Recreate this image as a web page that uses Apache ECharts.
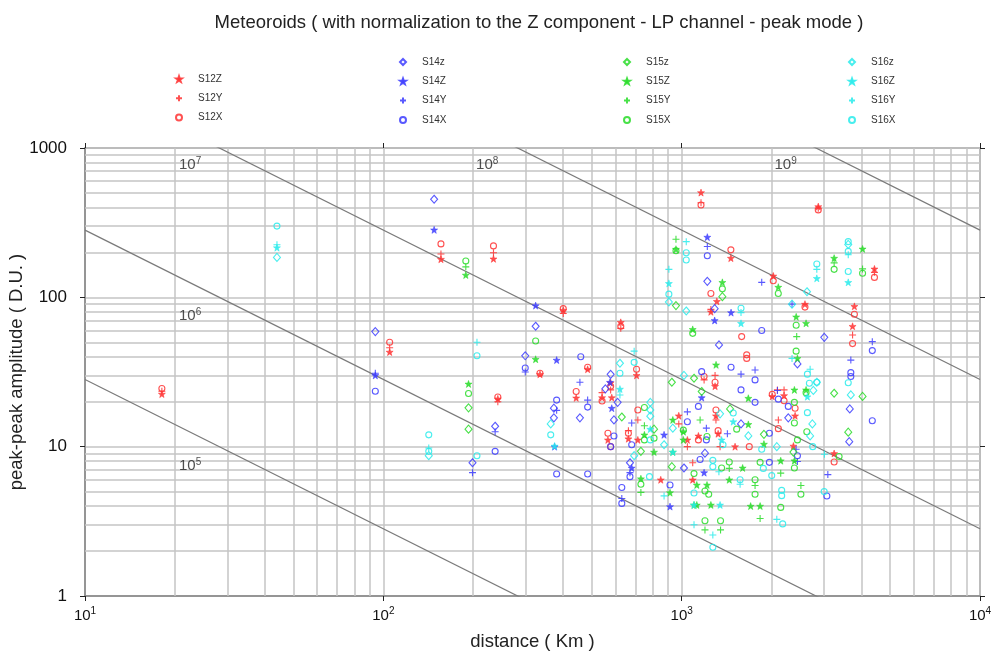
<!DOCTYPE html>
<html>
<head>
<meta charset="utf-8">
<title>Meteoroids</title>
<script src="https://cdn.jsdelivr.net/npm/echarts@6/dist/echarts.min.js"></script>
<style>
  html, body { margin: 0; padding: 0; background: #fff; }
  #chart { width: 996px; height: 655px; }
</style>
</head>
<body>
<div id="chart"></div>
<script>
// Peak-peak amplitude (D.U.) versus distance (km), one series per station and component.
// Each point is [distance, amplitude].
const s12Z = [[18.1,22.5],[105,43],[156,180],[234,181],[401,82],[625,68],[1161,503],[2870,405],[1462,183],[1312,94],[1253,80],[2028,139],[2590,90],[4428,155],[3793,87],[3740,64],[3244,9.0],[484,33],[335,30.5],[443,21.2],[541,21.3],[583,21.3],[578,26.8],[566,11.1],[663,11.3],[713,11.1],[706,30],[242,20.9],[851,6.0],[978,16.1],[1294,25.4],[1303,16.1],[1325,12.2],[1045,11.1],[1138,11.8],[1510,10],[2012,21.7],[2204,22],[2400,16.1],[2369,10.1],[1089,6.0]];
const s12Y = [[18.1,23.5],[105,46],[156,195],[234,199],[401,78],[1161,430],[2870,395],[541,23],[242,20],[663,12.8],[713,15.1],[1303,15.1],[1189,28],[1294,30],[2094,24],[2204,24],[1045,10],[1089,7.8],[2109,15.1],[3740,56],[1345,10],[625,62],[1253,83],[4428,147],[978,14.2],[578,24]];
const s12X = [[18.1,24.5],[105,50],[156,228],[234,221],[401,84],[625,64],[1161,415],[2870,385],[1462,208],[1253,106],[2028,129],[2590,86],[4428,136],[3793,77],[3740,49],[3244,7.9],[484,34],[443,23.4],[541,20.2],[578,25.4],[566,12.3],[578,10],[663,12.3],[713,17.6],[706,33],[242,21.5],[1589,54.6],[1652,41.2],[1652,39],[1189,29.5],[1294,27],[1303,17.6],[1325,12.8],[1138,11.1],[1685,10],[2012,22.4],[2204,20.3],[2400,18.1],[2109,13.2],[335,31]];

const s14z = [[94,59],[148,454],[324,64],[299,40.6],[1219,128],[1290,84],[3006,54],[3660,17.9],[3645,10.8],[237,13.7],[199,7.8],[373,15.6],[456,15.6],[578,30.5],[555,24.4],[610,19.8],[593,15.1],[671,7.8],[1018,7.2],[1334,48],[2444,35.8],[2277,15.6],[1581,14.2],[1197,9.05],[373,18.1]];
const s14Z = [[148,283],[324,88],[381,38],[375,10],[583,18.1],[575,27],[680,7.2],[914,3.97],[1219,253],[1290,70],[1464,79],[1189,6.7],[1167,21.3],[873,12],[94,30]];
const s14Y = [[94,31],[237,12.6],[199,6.7],[299,31.6],[456,27],[484,20.5],[381,17.5],[680,14.4],[671,6.7],[630,4.5],[1219,219],[1855,126],[2344,90],[1581,30.6],[1762,32.6],[2094,23.8],[1045,17.1],[1210,13.3],[1423,12.2],[2419,9.6],[2444,7.95],[4355,50.5],[3690,38],[3090,6.5]];
const s14X = [[94,23.5],[237,9.3],[299,33.6],[459,40],[381,20.5],[484,18.4],[381,6.56],[484,6.56],[593,11.8],[578,10],[680,10.3],[671,6.3],[630,5.33],[630,4.17],[914,5.54],[1219,190],[1167,31.8],[1464,34],[1762,28],[1581,24],[1138,18.6],[1762,19.8],[2109,20.8],[2277,18.6],[1968,12.3],[1045,14.7],[1210,11.1],[1153,8.2],[1968,7.85],[2444,8.7],[1855,60],[4355,44],[3690,31.3],[3690,29.5],[4355,14.9],[3067,4.67]];

const s15z = [[193,18.2],[193,13.1],[957,88],[1369,101],[630,15.8],[730,9.3],[808,13.1],[927,7.35],[927,27],[1100,28.7],[1167,23.4],[1453,17.9],[1887,12.1],[2369,9.2],[3244,22.8],[4040,21.7],[3617,12.5]];
const s15Z = [[189,141],[193,26.3],[324,38.5],[957,210],[1089,61],[1369,126],[2108,117],[2420,74],[2612,67],[3244,183],[4040,211],[1304,35.3],[2444,39],[1673,21.1],[2387,24],[2612,24],[750,12],[808,9.2],[934,9.2],[730,6.1],[914,4.92],[1013,12.6],[1013,11.1],[1673,14.1],[1887,10.4],[1444,6.0],[1124,5.54],[1216,5.54],[1100,4.07],[1124,4.07],[1253,4.07],[1601,7.2],[1703,4.0],[1832,4.0],[2148,8.05],[2387,8.05],[934,15.1]];
const s15Y = [[189,160],[957,245],[4040,155],[750,13.8],[730,4.94],[2430,54.6],[1153,15.1],[1444,7.15],[1762,5.5],[2148,6.65],[2510,5.5],[1197,2.77],[1350,2.77],[1832,3.3],[3244,170]];
const s15X = [[189,175],[193,22.7],[324,51],[957,205],[1089,57.4],[1369,114],[2108,106],[2420,65],[3244,154],[4040,145],[2419,43.6],[750,18.3],[750,11.1],[808,11.4],[730,5.6],[1013,12.9],[1216,11.7],[1529,13.1],[1100,6.6],[1361,7.2],[1444,7.9],[1832,7.85],[2387,7.2],[2387,14.4],[2387,19.8],[2612,23],[2444,11.1],[2627,12.6],[1232,4.8],[1762,4.8],[2148,3.92],[2510,4.8],[1197,3.19],[1350,3.19],[1197,5.05],[3370,8.6],[1762,6.0]];

const s16z = [[44,185],[142,8.7],[364,14.2],[621,36.2],[693,8.7],[785,19.8],[785,17.6],[785,16],[934,13.3],[1036,81],[1018,30],[2344,90],[2631,109],[3617,226],[2763,23.8],[2838,27],[2742,14.2],[2695,11.8],[1345,16.6],[1673,11.8],[3690,22.2],[2084,10],[873,10.3],[906,93]];
const s16Z = [[44,215],[375,10.1],[621,24.3],[785,13.1],[906,124],[934,9.2],[1581,67],[2838,134],[3617,126],[2639,21.6],[1361,11.1],[1100,4.07],[1345,4.07],[1489,14.7]];
const s16Y = [[44,225],[142,9.8],[206,50],[621,22.2],[693,43.6],[906,154],[1036,236],[2838,154],[3617,193],[2695,33],[2344,39],[1333,6.8],[1570,5.6],[873,4.68],[1100,3.0],[1272,2.56],[2084,3.26],[3010,8.9],[1581,79]];
const s16X = [[44,300],[142,12],[142,9.3],[206,40.6],[206,8.7],[364,12],[621,31],[693,36.7],[785,11.1],[906,105],[1036,199],[1036,178],[1581,84.5],[2838,167],[3617,236],[3617,203],[3617,149],[3617,26.8],[2838,27],[2680,26.6],[2639,30.6],[2639,16.9],[1376,10.3],[1272,8.1],[1272,7.35],[1100,4.9],[1570,6.0],[1878,7.15],[2004,6.4],[2164,5.1],[2164,4.7],[3004,5.0],[1272,2.12],[780,6.3],[2750,10],[1855,9.6],[1489,16.8],[2181,3.04]];

// Iso-energy reference lines: exponent of the energy and the amplitude each line has at 10 km.
const energyExp = [5, 6, 7, 8, 9, 10];
const energyAmpAt10km = [28.2, 282, 2820, 28200, 282000, 2820000];
// Where the energy labels sit, [distance, amplitude].
const energyLabelPos = [[22.5, 7.4], [22.5, 75], [22.5, 770], [223, 770], [2230, 770]];
const energyLabelExp = [5, 6, 7, 8, 9];

const xRange = [10, 10000];
const yRange = [1, 1000];
const xMinorGrid = [20,30,40,50,60,70,80,90,200,300,400,500,600,700,800,900,2000,3000,4000,5000,6000,7000,8000,9000];
const yMinorGrid = [2,3,4,5,6,7,8,9,20,30,40,50,60,70,80,90,200,300,400,500,600,700,800,900];

const FONT = 'Liberation Sans';
const RED = 'rgba(255,50,50,0.85)';
const BLUE = 'rgba(60,60,255,0.85)';
const GREEN = 'rgba(40,220,40,0.85)';
const CYAN = 'rgba(40,235,235,0.85)';

const STAR = 'path://M0,-10L2.35,-3.24L9.51,-3.09L3.8,1.24L5.88,8.09L0,4L-5.88,8.09L-3.8,1.24L-9.51,-3.09L-2.35,-3.24Z';
const PLUS = 'path://M-5,0L5,0M0,-5L0,5';

const shapes = {
  z: { symbol: 'diamond', size: [7, 8], fill: false },
  Z: { symbol: STAR, size: 7, fill: true },
  Y: { symbol: PLUS, size: 7, fill: false },
  X: { symbol: 'circle', size: 6, fill: false }
};

const stationSeries = [
  ['S12Z', s12Z, RED, 'Z'], ['S12Y', s12Y, RED, 'Y'], ['S12X', s12X, RED, 'X'],
  ['S14z', s14z, BLUE, 'z'], ['S14Z', s14Z, BLUE, 'Z'], ['S14Y', s14Y, BLUE, 'Y'], ['S14X', s14X, BLUE, 'X'],
  ['S15z', s15z, GREEN, 'z'], ['S15Z', s15Z, GREEN, 'Z'], ['S15Y', s15Y, GREEN, 'Y'], ['S15X', s15X, GREEN, 'X'],
  ['S16z', s16z, CYAN, 'z'], ['S16Z', s16Z, CYAN, 'Z'], ['S16Y', s16Y, CYAN, 'Y'], ['S16X', s16X, CYAN, 'X']
];

const supRich = {
  b: { fontFamily: FONT, fontSize: 15, color: '#111', lineHeight: 18 },
  s: { fontFamily: FONT, fontSize: 10, color: '#111', padding: [0, 0, 9, 0] }
};
const supLabel = (e) => '{b|10}{s|' + e + '}';

const series = [];

// Minor grid and iso-energy lines
energyExp.forEach((e, i) => {
  const a10 = energyAmpAt10km[i];
  series.push({
    type: 'line',
    name: 'E' + e,
    silent: true,
    clip: true,
    symbol: 'none',
    z: 2,
    lineStyle: { color: '#7a7a7a', width: 1.2 },
    data: [[xRange[0], a10], [xRange[1], a10 * xRange[0] / xRange[1]]],
    markLine: i === 0 ? {
      silent: true,
      symbol: 'none',
      label: { show: false },
      lineStyle: { color: '#c4c4c4', width: 1.5, type: 'solid' },
      z: 1,
      data: xMinorGrid.map(v => ({ xAxis: v })).concat(yMinorGrid.map(v => ({ yAxis: v })))
    } : undefined
  });
});

// Energy labels
series.push({
  type: 'scatter',
  name: 'energyLabels',
  silent: true,
  symbolSize: 0,
  z: 3,
  data: energyLabelPos.map((p, i) => ({ value: p, e: energyLabelExp[i] })),
  label: {
    show: true,
    position: 'inside',
    formatter: (p) => '{b|10}{s|' + p.data.e + '}',
    rich: {
      b: { fontFamily: FONT, fontSize: 15, color: '#222', lineHeight: 17 },
      s: { fontFamily: FONT, fontSize: 10, color: '#222', padding: [0, 0, 8, 0] }
    }
  }
});

stationSeries.forEach(([name, data, color, comp]) => {
  const sh = shapes[comp];
  series.push({
    type: 'scatter',
    name: name,
    data: data,
    symbol: sh.symbol,
    symbolSize: sh.size,
    z: 5,
    itemStyle: sh.fill
      ? { color: color, borderColor: color, borderWidth: 0.6, opacity: 1 }
      : { color: 'rgba(255,255,255,0)', borderColor: color, borderWidth: 1.1, opacity: 1 }
  });
});

// Legend blocks: small icons, label pushed right with left padding.
const legendBase = {
  orient: 'vertical',
  padding: 0,
  itemWidth: 6,
  itemHeight: 6,
  itemGap: 7.3,
  selectedMode: false,
  textStyle: { fontFamily: FONT, fontSize: 10, color: '#333', lineHeight: 12, padding: [0, 0, 0, 11] }
};

const option = {
  animation: false,
  backgroundColor: '#fff',
  title: {
    text: 'Meteoroids ( with normalization to the Z component - LP channel - peak mode )',
    left: 534,
    textAlign: 'center',
    top: 8,
    textStyle: { fontFamily: FONT, fontSize: 18.5, fontWeight: 'normal', color: '#222' }
  },
  legend: [
    Object.assign({}, legendBase, { left: 175, top: 73, data: ['S12Z', 'S12Y', 'S12X'] }),
    Object.assign({}, legendBase, { left: 399, top: 56, data: ['S14z', 'S14Z', 'S14Y', 'S14X'] }),
    Object.assign({}, legendBase, { left: 623, top: 56, data: ['S15z', 'S15Z', 'S15Y', 'S15X'] }),
    Object.assign({}, legendBase, { left: 848, top: 56, data: ['S16z', 'S16Z', 'S16Y', 'S16X'] })
  ],
  grid: {
    left: 85, right: 16, top: 148, bottom: 59,
    containLabel: false, outerBoundsMode: 'none',
    show: true, borderColor: '#888', borderWidth: 1.5, backgroundColor: 'transparent'
  },
  xAxis: [{
    type: 'log', logBase: 10, min: xRange[0], max: xRange[1],
    name: 'distance ( Km )', nameLocation: 'middle', nameGap: 36, nameMoveOverlap: false,
    nameTextStyle: { fontFamily: FONT, fontSize: 18.5, color: '#222' },
    axisLine: { show: true, lineStyle: { color: '#888', width: 1.5 } },
    axisTick: { show: true, length: 5, lineStyle: { color: '#222' } },
    axisLabel: { margin: 10, formatter: (v) => supLabel(Math.round(Math.log10(v))), rich: supRich },
    splitLine: { show: true, lineStyle: { color: '#c4c4c4', width: 1.5 } }
  }, {
    type: 'log', logBase: 10, min: xRange[0], max: xRange[1], position: 'top',
    axisLine: { show: false },
    axisTick: { show: true, length: 5, lineStyle: { color: '#222' } },
    axisLabel: { show: false },
    splitLine: { show: false }
  }],
  yAxis: [{
    type: 'log', logBase: 10, min: yRange[0], max: yRange[1],
    name: 'peak-peak amplitude ( D.U. )', nameLocation: 'middle', nameGap: 59, nameMoveOverlap: false,
    nameTextStyle: { fontFamily: FONT, fontSize: 18.5, color: '#222' },
    axisLine: { show: true, lineStyle: { color: '#888', width: 1.5 } },
    axisTick: { show: true, length: 5, lineStyle: { color: '#222' } },
    axisLabel: { margin: 18, fontFamily: FONT, fontSize: 17, color: '#111', formatter: (v) => String(Math.round(v)) },
    splitLine: { show: true, lineStyle: { color: '#c4c4c4', width: 1.5 } }
  }, {
    type: 'log', logBase: 10, min: yRange[0], max: yRange[1], position: 'right',
    axisLine: { show: false },
    axisTick: { show: true, length: 5, lineStyle: { color: '#222' } },
    axisLabel: { show: false },
    splitLine: { show: false }
  }],
  series: series
};

const chart = echarts.init(document.getElementById('chart'), null, { renderer: 'canvas' });
chart.setOption(option);
</script>
</body>
</html>
